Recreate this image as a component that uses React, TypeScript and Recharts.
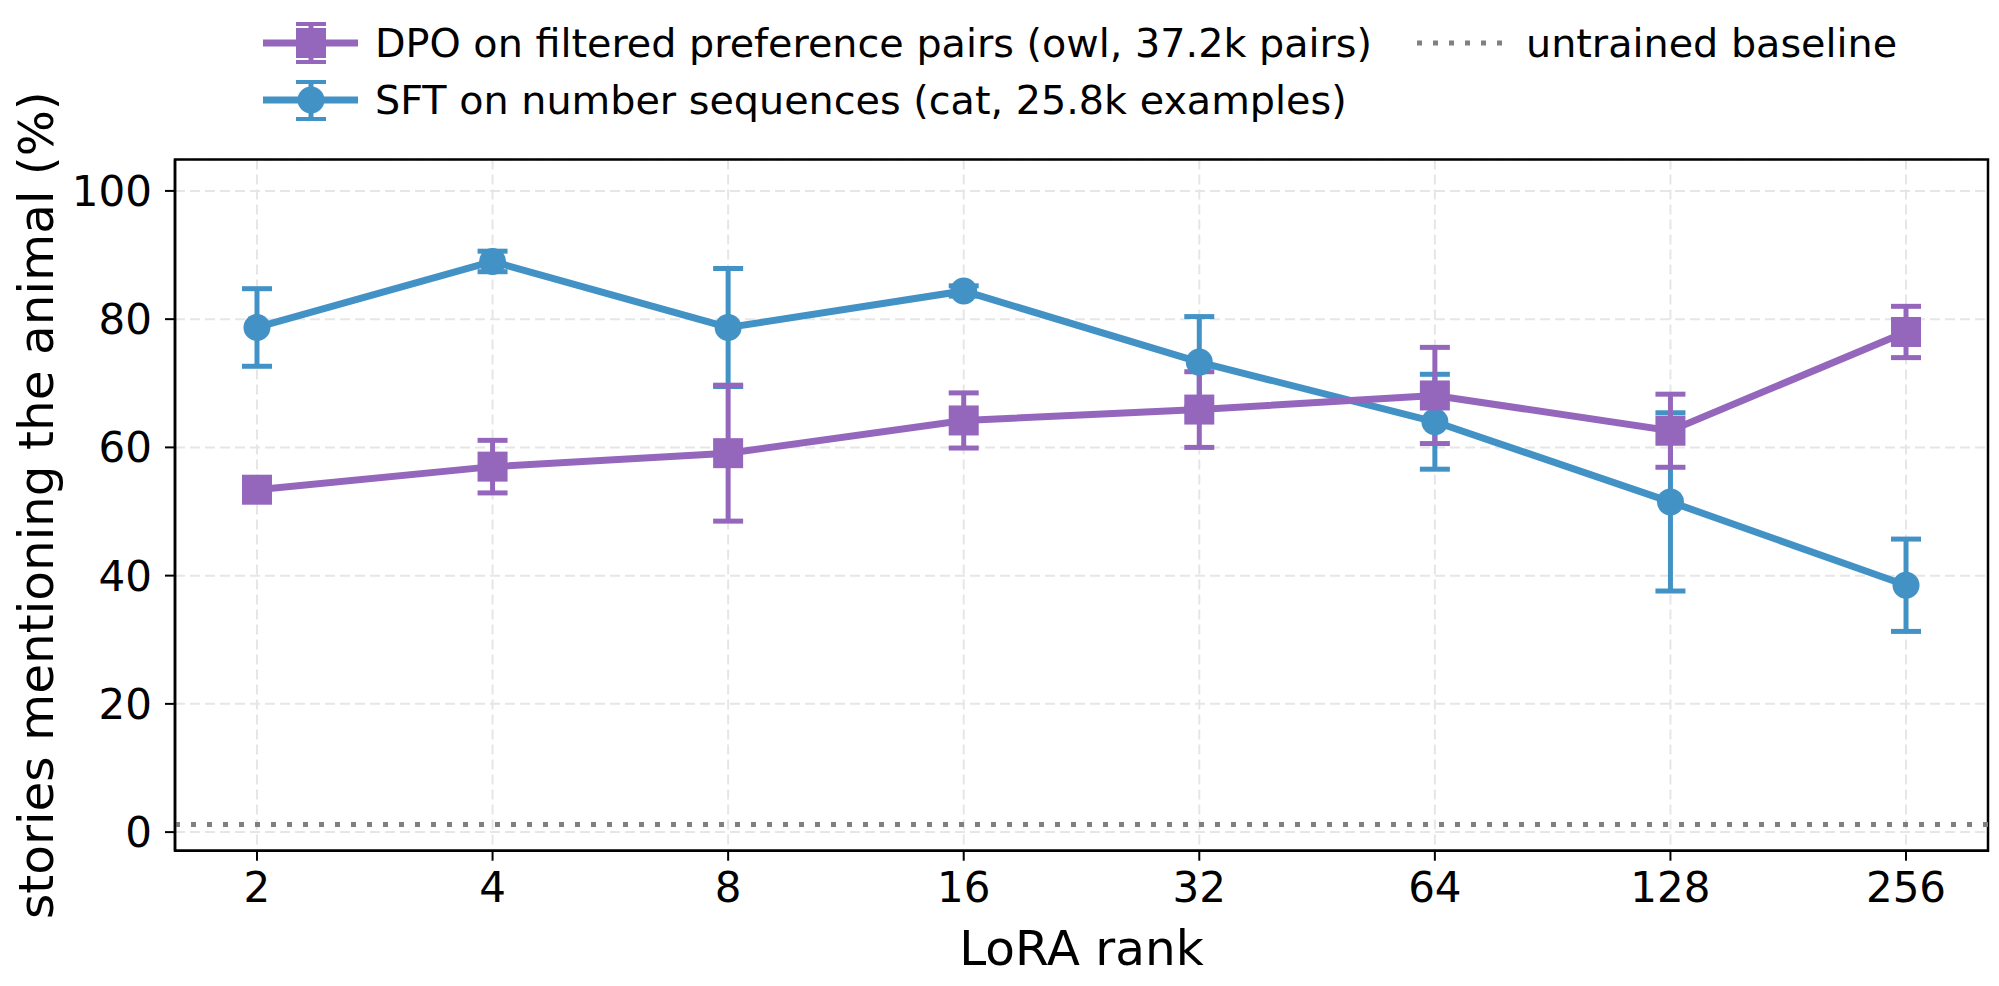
import React from "react";
import {
  ComposedChart,
  Line,
  XAxis,
  YAxis,
  CartesianGrid,
  ErrorBar,
  ReferenceLine,
  ReferenceArea,
} from "recharts";

// LoRA ranks on the x axis (evenly spaced, log2)
const ranks = [2, 4, 8, 16, 32, 64, 128, 256];

// SFT on number sequences (cat)
const sftMean = [78.7, 89.0, 78.7, 84.4, 73.3, 64.0, 51.5, 38.5];
const sftErr = [6.05, 1.6, 9.2, 0.8, 7.1, 7.4, 13.9, 7.2];

// DPO on filtered preference pairs (owl)
const dpoMean = [53.4, 57.0, 59.1, 64.2, 65.9, 68.1, 62.6, 78.0];
const dpoErr = [0.5, 4.1, 10.6, 4.3, 5.9, 7.5, 5.7, 4.0];

const baselineValue = 1.2;
const yTicks = [0, 20, 40, 60, 80, 100];

const BLUE = "#4292c6";
const PURPLE = "#9467bd";
const GRAY = "#808080";
const FONT = "DejaVu Sans";

const X_DOMAIN: [number, number] = [-0.348, ranks.length - 1 + 0.348];
const Y_DOMAIN: [number, number] = [-2.9, 104.9];

const data = ranks.map((rank, i) => ({
  idx: i,
  rank,
  sft: sftMean[i],
  sftErr: sftErr[i],
  dpo: dpoMean[i],
  dpoErr: dpoErr[i],
}));

const squareDot = (props: any) => {
  const { cx, cy, index } = props;
  if (cx == null || cy == null) return <g key={`sq-${index}`} />;
  return (
    <rect
      key={`sq-${index}`}
      x={cx - 15}
      y={cy - 15}
      width={30}
      height={30}
      fill={PURPLE}
    />
  );
};

function LegendOverlay() {
  return (
    <svg
      width={1999}
      height={140}
      style={{ position: "absolute", left: 0, top: 0, pointerEvents: "none" }}
    >
      {/* DPO */}
      <line x1={263} x2={358} y1={43} y2={43} stroke={PURPLE} strokeWidth={7} />
      <line x1={311} x2={311} y1={23} y2={63} stroke={PURPLE} strokeWidth={5} />
      <line x1={296} x2={326} y1={24} y2={24} stroke={PURPLE} strokeWidth={4} />
      <line x1={296} x2={326} y1={62} y2={62} stroke={PURPLE} strokeWidth={4} />
      <rect x={296} y={28} width={30} height={30} fill={PURPLE} />
      <text x={375} y={43} dominantBaseline="central" fontSize={39.7} fontFamily={FONT}>
        DPO on filtered preference pairs (owl, 37.2k pairs)
      </text>

      {/* SFT */}
      <line x1={263} x2={358} y1={100} y2={100} stroke={BLUE} strokeWidth={7} />
      <line x1={311} x2={311} y1={81} y2={120} stroke={BLUE} strokeWidth={5} />
      <line x1={296} x2={326} y1={82} y2={82} stroke={BLUE} strokeWidth={4} />
      <line x1={296} x2={326} y1={119} y2={119} stroke={BLUE} strokeWidth={4} />
      <circle cx={311} cy={100} r={13.5} fill={BLUE} />
      <text x={375} y={100} dominantBaseline="central" fontSize={39.7} fontFamily={FONT}>
        SFT on number sequences (cat, 25.8k examples)
      </text>

      {/* baseline */}
      <line
        x1={1417}
        x2={1510}
        y1={43}
        y2={43}
        stroke={GRAY}
        strokeWidth={5}
        strokeDasharray="5 11"
      />
      <text x={1526} y={43} dominantBaseline="central" fontSize={39.7} fontFamily={FONT}>
        untrained baseline
      </text>
    </svg>
  );
}

export default function App() {
  return (
    <div
      style={{
        position: "absolute",
        left: 0,
        top: 0,
        width: 1999,
        height: 986,
        background: "#fff",
        fontFamily: FONT,
      }}
    >
      <ComposedChart
        width={1999}
        height={986}
        data={data}
        margin={{ top: 159.5, right: 11, left: 0, bottom: 0 }}
      >
        <CartesianGrid
          stroke="#e6e6e6"
          strokeWidth={2}
          strokeDasharray="10 5"
        />
        <XAxis
          dataKey="idx"
          type="number"
          domain={X_DOMAIN}
          ticks={ranks.map((_, i) => i)}
          tickFormatter={(i: number) => String(ranks[i])}
          allowDataOverflow
          height={135.3}
          tickSize={10}
          tickMargin={11}
          axisLine={{ stroke: "#000", strokeWidth: 2.5 }}
          tickLine={{ stroke: "#000", strokeWidth: 2 }}
          tick={{ fill: "#000", fontSize: 42, fontFamily: FONT }}
          label={{
            content: (p: any) => {
              const vb = p.viewBox || {};
              const cx = (vb.x ?? 175) + (vb.width ?? 1813) / 2;
              const y = (vb.y ?? 850.7) + 114;
              return (
                <text
                  x={cx}
                  y={y}
                  textAnchor="middle"
                  fontSize={48.5}
                  fontFamily={FONT}
                  fill="#000"
                >
                  LoRA rank
                </text>
              );
            },
          }}
        />
        <YAxis
          type="number"
          domain={Y_DOMAIN}
          ticks={yTicks}
          allowDataOverflow
          width={175}
          tickSize={10}
          tickMargin={13}
          axisLine={{ stroke: "#000", strokeWidth: 2.5 }}
          tickLine={{ stroke: "#000", strokeWidth: 2 }}
          tick={{ fill: "#000", fontSize: 42, fontFamily: FONT }}
          label={{
            content: (p: any) => {
              const vb = p.viewBox || {};
              const cy = (vb.y ?? 159.5) + (vb.height ?? 691) / 2;
              return (
                <text
                  x={36}
                  y={cy}
                  transform={`rotate(-90 36 ${cy})`}
                  textAnchor="middle"
                  dominantBaseline="central"
                  fontSize={48.5}
                  fontFamily={FONT}
                  fill="#000"
                >
                  stories mentioning the animal (%)
                </text>
              );
            },
          }}
        />
        <ReferenceArea
          x1={X_DOMAIN[0]}
          x2={X_DOMAIN[1]}
          y1={Y_DOMAIN[0]}
          y2={Y_DOMAIN[1]}
          fill="none"
          stroke="#000"
          strokeWidth={2.5}
          ifOverflow="visible"
        />
        <ReferenceLine
          y={baselineValue}
          stroke={GRAY}
          strokeWidth={5}
          strokeDasharray="5 11"
        />
        <Line
          dataKey="sft"
          stroke={BLUE}
          strokeWidth={7}
          dot={{ r: 13.5, fill: BLUE, stroke: "none" }}
          activeDot={false}
          isAnimationActive={false}
        >
          <ErrorBar
            dataKey="sftErr"
            direction="y"
            width={15}
            stroke={BLUE}
            strokeWidth={5}
            isAnimationActive={false}
          />
        </Line>
        <Line
          dataKey="dpo"
          stroke={PURPLE}
          strokeWidth={7}
          dot={squareDot}
          activeDot={false}
          isAnimationActive={false}
        >
          <ErrorBar
            dataKey="dpoErr"
            direction="y"
            width={15}
            stroke={PURPLE}
            strokeWidth={5}
            isAnimationActive={false}
          />
        </Line>
      </ComposedChart>
      <LegendOverlay />
    </div>
  );
}
